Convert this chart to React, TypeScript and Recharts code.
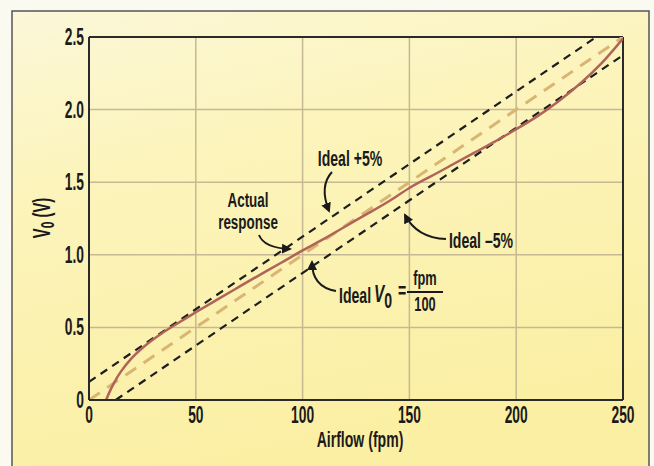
import React from "react";
import { LineChart, Line, XAxis, YAxis, CartesianGrid, ReferenceLine } from "recharts";

// Airflow (fpm) samples for the measured response
const airflow = [8, 10, 12, 15, 20, 25, 30, 35, 40, 50, 60, 70, 80, 90, 100, 110, 120, 130, 140, 150, 160, 170, 180, 190, 200, 210, 220, 230, 240, 250];
const actualV = [0, 0.068, 0.125, 0.197, 0.288, 0.358, 0.416, 0.468, 0.515, 0.604, 0.691, 0.777, 0.862, 0.945, 1.03, 1.11, 1.195, 1.28, 1.365, 1.46, 1.54, 1.62, 1.70, 1.78, 1.865, 1.955, 2.06, 2.18, 2.32, 2.49];

// Ideal Vo = fpm/100 and +-5% (of full scale) bounds
const idealX = [0, 250];
const idealV = [0, 2.5];
const plusX = [0, 250];
const plusV = [0.125, 2.625];
const minusX = [12.5, 250];
const minusV = [0, 2.375];

const xTicks = [0, 50, 100, 150, 200, 250];
const yTicks = [0, 0.5, 1.0, 1.5, 2.0, 2.5];

const toPts = (xs: number[], ys: number[]) => xs.map((x, i) => ({ x, y: ys[i] }));
const actualData = toPts(airflow, actualV);
const idealData = toPts(idealX, idealV);
const plusData = toPts(plusX, plusV);
const minusData = toPts(minusX, minusV);

const FONT = "'Liberation Sans', Arial, Helvetica, sans-serif";
const INK = "#1a1a1a";

const CText = ({ x, y, size = 21, sx = 0.66, anchor = "middle", children }: any) => (
  <g transform={`translate(${x},${y})`}>
    <text
      transform={`scale(${sx},1)`}
      textAnchor={anchor}
      fontFamily={FONT}
      fontWeight="bold"
      fontSize={size}
      fill={INK}
    >
      {children}
    </text>
  </g>
);

const XTick = (props: any) => {
  const { x, y, payload } = props;
  return <CText x={x} y={y + 15} size={23} sx={0.6}>{String(payload.value)}</CText>;
};

const YTick = (props: any) => {
  const { x, y, payload } = props;
  const v = payload.value as number;
  const s = v === 0 ? "0" : v.toFixed(1);
  return <CText x={x + 3} y={y + 8} size={23} sx={0.6} anchor="end">{s}</CText>;
};

export default function App() {
  return (
    <div style={{ position: "absolute", left: 0, top: 0, width: 654, height: 466, background: "#fbfaf1", overflow: "hidden" }}>
      <svg width={654} height={466} style={{ position: "absolute", left: 0, top: 0 }}>
        <defs>
          <linearGradient id="bg" x1="0" y1="0" x2="0.3" y2="1">
            <stop offset="0" stopColor="#fbf7d8" />
            <stop offset="0.35" stopColor="#fcf4bc" />
            <stop offset="1" stopColor="#fbefa3" />
          </linearGradient>
        </defs>
        <rect x={12} y={11} width={637} height={470} fill="url(#bg)" stroke="#555" strokeWidth={1.5} />
      </svg>
      <div style={{ position: "absolute", left: 0, top: 0 }}>
        <LineChart width={654} height={466} margin={{ top: 37, right: 31, left: 29, bottom: 26 }}>
          <CartesianGrid stroke="#c6b892" strokeWidth={1.5} />
          <XAxis
            type="number"
            dataKey="x"
            domain={[0, 250]}
            ticks={xTicks}
            allowDataOverflow
            height={40}
            tickLine={false}
            axisLine={{ stroke: "#2a2a2a", strokeWidth: 2 }}
            tick={<XTick />}
            interval={0}
          />
          <YAxis
            type="number"
            dataKey="y"
            domain={[0, 2.5]}
            ticks={yTicks}
            allowDataOverflow
            width={60}
            tickLine={false}
            axisLine={{ stroke: "#2a2a2a", strokeWidth: 2 }}
            tick={<YTick />}
            interval={0}
          />
          <ReferenceLine y={2.5} stroke="#2a2a2a" strokeWidth={2} />
          <ReferenceLine x={250} stroke="#2a2a2a" strokeWidth={2} />
          <Line data={idealData} dataKey="y" type="linear" stroke="#d8b574" strokeWidth={3} strokeDasharray="13 9" dot={false} isAnimationActive={false} />
          <Line data={plusData} dataKey="y" type="linear" stroke="#1e1e1e" strokeWidth={2.2} strokeDasharray="8 6" dot={false} isAnimationActive={false} />
          <Line data={minusData} dataKey="y" type="linear" stroke="#1e1e1e" strokeWidth={2.2} strokeDasharray="8 6" dot={false} isAnimationActive={false} />
          <Line data={actualData} dataKey="y" type="natural" stroke="#b06458" strokeWidth={2.5} dot={false} isAnimationActive={false} />
        </LineChart>
      </div>
      <svg width={654} height={466} style={{ position: "absolute", left: 0, top: 0, pointerEvents: "none" }}>
        <defs>
          <marker id="ah" viewBox="0 0 10 10" refX="8" refY="5" markerWidth="5" markerHeight="5" orient="auto">
            <path d="M0,0 L10,5 L0,10 z" fill={INK} />
          </marker>
        </defs>
        {/* axis titles */}
        <CText x={360} y={447} size={22} sx={0.64}>Airflow (fpm)</CText>
        <g transform="translate(50,218) rotate(-90)">
          <text transform="scale(0.64,1)" textAnchor="middle" fontFamily={FONT} fontWeight="bold" fontSize={23} fill={INK}>
            V<tspan fontSize={19} dy={4}>0</tspan><tspan dy={-4}> (V)</tspan>
          </text>
        </g>
        {/* annotations */}
        <CText x={350} y={166} size={22} sx={0.64}>Ideal +5%</CText>
        <path d="M 332 172 Q 319 186 329 211" fill="none" stroke={INK} strokeWidth={2} markerEnd="url(#ah)" />

        <g transform="translate(248,207)">
          <text transform="scale(0.64,1)" textAnchor="middle" fontFamily={FONT} fontWeight="bold" fontSize={21} fill={INK}>
            <tspan x={0} dy={0}>Actual</tspan>
            <tspan x={0} dy={22}>response</tspan>
          </text>
        </g>
        <path d="M 259 235 Q 264 248 290 249" fill="none" stroke={INK} strokeWidth={2} markerEnd="url(#ah)" />

        <CText x={481} y={248} size={22} sx={0.64}>Ideal –5%</CText>
        <path d="M 446 239 Q 417 238 405 215" fill="none" stroke={INK} strokeWidth={2} markerEnd="url(#ah)" />

        <CText x={339} y={303} anchor="start" size={22} sx={0.64}>Ideal</CText>
        <g transform="translate(374,302)">
          <text transform="scale(0.64,1)" fontFamily={FONT} fontWeight="bold" fontStyle="italic" fontSize={24} fill={INK}>
            V<tspan fontStyle="normal" fontSize={22} dy={6}>0</tspan>
          </text>
        </g>
        <CText x={402} y={298} size={22} sx={0.64}>=</CText>
        <CText x={425} y={285} size={20} sx={0.64}>fpm</CText>
        <line x1={407} y1={292} x2={443} y2={292} stroke={INK} strokeWidth={1.8} />
        <CText x={425} y={311} size={20} sx={0.64}>100</CText>
        <path d="M 336 291 Q 312 287 312 262" fill="none" stroke={INK} strokeWidth={2} markerEnd="url(#ah)" />
      </svg>
    </div>
  );
}
